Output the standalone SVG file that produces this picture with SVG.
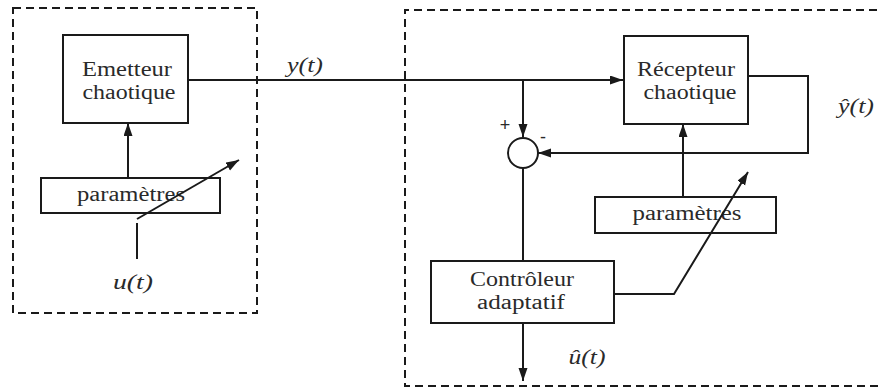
<svg xmlns="http://www.w3.org/2000/svg" width="881" height="387" viewBox="0 0 881 387">
  <defs>
    <marker id="arrow" markerUnits="userSpaceOnUse" markerWidth="14" markerHeight="10" refX="13" refY="4.5" orient="auto">
      <path d="M0,0 L13,4.5 L0,9 z" fill="#1a1a1a"/>
    </marker>
    <style>
      .box { fill: none; stroke: #1a1a1a; stroke-width: 2; }
      .frame { fill: none; stroke: #1a1a1a; stroke-width: 2; stroke-dasharray: 8 5; }
      .wire { fill: none; stroke: #1a1a1a; stroke-width: 2; }
      .lbl { font-family: "Liberation Serif", "DejaVu Serif", serif; font-size: 20px; fill: #2a2a2a; text-anchor: middle; }
      .math { font-family: "Liberation Serif", "DejaVu Serif", serif; font-style: italic; font-size: 21px; fill: #2a2a2a; text-anchor: middle; }
      .sign { font-family: "Liberation Sans", "DejaVu Sans", sans-serif; font-size: 18px; fill: #2a2a2a; text-anchor: middle; }
    </style>
  </defs>

  <rect id="white" width="881" height="387" fill="#fff"/>

  <!-- dashed enclosures: transmitter side and receiver side -->
  <g id="frames">
    <rect class="frame" x="13" y="8" width="244" height="305"/>
    <path class="frame" d="M890,10 H405 V386 H890"/>
  </g>

  <g id="emetteur">
    <rect class="box" x="63" y="35" width="125" height="88"/>
    <text class="lbl" x="127" y="76" textLength="90" lengthAdjust="spacingAndGlyphs">Emetteur</text>
    <text class="lbl" x="129" y="99" textLength="93" lengthAdjust="spacingAndGlyphs">chaotique</text>
  </g>

  <g id="parametres-e">
    <rect class="box" x="41" y="178" width="179" height="35"/>
    <text class="lbl" x="131" y="201" textLength="108" lengthAdjust="spacingAndGlyphs">paramètres</text>
  </g>

  <g id="recepteur">
    <rect class="box" x="624" y="36" width="124" height="88"/>
    <text class="lbl" x="686" y="76" textLength="98" lengthAdjust="spacingAndGlyphs">Récepteur</text>
    <text class="lbl" x="690" y="99" textLength="93" lengthAdjust="spacingAndGlyphs">chaotique</text>
  </g>

  <g id="parametres-r">
    <rect class="box" x="595" y="197" width="181" height="36"/>
    <text class="lbl" x="687" y="220" textLength="109" lengthAdjust="spacingAndGlyphs">paramètres</text>
  </g>

  <g id="controleur">
    <rect class="box" x="431" y="261" width="183" height="62"/>
    <text class="lbl" x="522" y="286" textLength="104" lengthAdjust="spacingAndGlyphs">Contrôleur</text>
    <text class="lbl" x="521" y="309" textLength="88" lengthAdjust="spacingAndGlyphs">adaptatif</text>
  </g>

  <g id="comparateur">
    <circle cx="523" cy="153" r="15" fill="#fff" stroke="#1a1a1a" stroke-width="2"/>
    <text class="sign" x="505" y="131">+</text>
    <text class="sign" x="543" y="143">-</text>
  </g>

  <g id="signaux">
    <text class="math" x="305" y="72" textLength="36" lengthAdjust="spacingAndGlyphs">y(t)</text>
    <text class="math" x="133" y="289" textLength="40" lengthAdjust="spacingAndGlyphs">u(t)</text>
    <text class="math" x="856" y="113" textLength="36" lengthAdjust="spacingAndGlyphs">ŷ(t)</text>
    <text class="math" x="587" y="364" textLength="37" lengthAdjust="spacingAndGlyphs">û(t)</text>
  </g>

  <!-- signal lines, drawn on top so the adjustment arrows cross the parameter blocks -->
  <g id="connectors">
    <path class="wire" d="M188,80 H623" marker-end="url(#arrow)"/>
    <path class="wire" d="M523,80 V137" marker-end="url(#arrow)"/>
    <path class="wire" d="M748,76 H808 V153 H538" marker-end="url(#arrow)"/>
    <path class="wire" d="M523,168 V261"/>
    <path class="wire" d="M523,323 V381" marker-end="url(#arrow)"/>
    <path class="wire" d="M614,294 H674 L748,172" marker-end="url(#arrow)"/>
    <path class="wire" d="M683,197 V124" marker-end="url(#arrow)"/>
    <path class="wire" d="M128,178 V123" marker-end="url(#arrow)"/>
    <path class="wire" d="M137,259 V223"/>
    <path class="wire" d="M137,219 L239,160" marker-end="url(#arrow)"/>
  </g>
</svg>
